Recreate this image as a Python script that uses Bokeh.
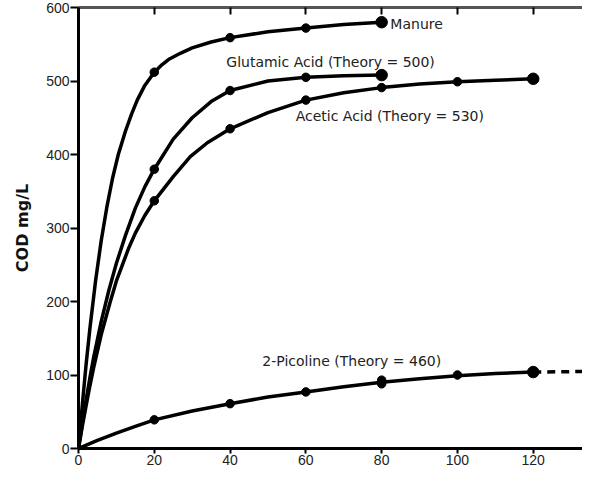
from bokeh.plotting import figure
from bokeh.models import Range1d, LinearAxis, FixedTicker, ColumnDataSource
from bokeh.core.properties import value
from bokeh.embed import file_html
from bokeh.resources import INLINE

# ---- data ----
# measured points
manure_t = [20, 40, 60, 80]
manure_v = [512, 559, 572, 580]
glut_t = [20, 40, 60, 80]
glut_v = [380, 487, 505, 508]
acetic_t = [20, 40, 60, 80, 100, 120]
acetic_v = [337, 435, 474, 491, 499, 503]
pic_t = [20, 40, 60, 80, 80, 100, 120]
pic_v = [39, 61, 77, 88, 93, 100, 104]

# fitted curves as drawn in the picture
manure_ct = [0, 1, 2, 3, 4.5, 6, 7.5, 9, 10.5, 12.4, 14, 15.5, 17.5, 20, 22, 24, 27, 30, 35, 40, 50, 60, 70, 80]
manure_cv = [0, 59, 114, 163, 228, 283, 329, 368, 400, 432, 455, 474, 494, 512, 522, 530, 538, 545, 553, 559, 567, 572, 577, 580]
glut_ct = [0, 1, 2, 3, 4, 6, 8, 10, 12.4, 15, 17.5, 20, 25, 30, 35, 40, 50, 60, 70, 80]
glut_cv = [0, 34, 66, 96, 124, 173, 215, 252, 290, 327, 356, 380, 421, 450, 472, 487, 500, 505, 507, 508]
acetic_ct = [0, 1, 2, 3, 4, 6, 8.4, 10, 13.2, 15, 17.5, 20, 25, 29.5, 34, 40, 50, 60, 70, 80, 90, 100, 110, 120]
acetic_cv = [0, 30, 58, 85, 110, 155, 200, 228, 272, 293, 317, 337, 370, 397, 416, 435, 457, 474, 484, 491, 496, 499, 501, 503]
pic_ct = [0, 5, 10, 15, 20, 30, 40, 50, 60, 70, 80, 90, 100, 110, 120]
pic_cv = [0, 11, 21, 30, 39, 51, 61, 70, 77, 84, 90, 95, 99, 102, 104]
pic_ext_t = [120, 137]
pic_ext_v = [104, 105]

labels = ["Manure", "Glutamic Acid (Theory = 500)", "Acetic Acid (Theory = 530)", "2-Picoline (Theory = 460)"]
label_x = [82.3, 39, 57.3, 48.5]
label_y = [577, 526, 453, 119]

x_ticks = [0, 20, 40, 60, 80, 100, 120]
y_ticks = [0, 100, 200, 300, 400, 500, 600]
top_ticks = [20, 40, 60, 80, 100, 120]

FONT = "Liberation Sans"
LFONT = "DejaVu Sans"

p = figure(width=582, height=467, output_backend="svg", toolbar_location=None,
           x_range=Range1d(0, 133), y_range=Range1d(0, 600),
           min_border_left=78, min_border_right=0, min_border_top=7, min_border_bottom=0)
p.grid.visible = False
p.outline_line_color = None
p.background_fill_color = "white"

for ct, cv in [(manure_ct, manure_cv), (glut_ct, glut_cv), (acetic_ct, acetic_cv), (pic_ct, pic_cv)]:
    p.line(ct, cv, line_color="black", line_width=3.5)
p.line(pic_ext_t, pic_ext_v, line_color="black", line_width=3.5, line_dash="8 6")

for t, v in [(manure_t, manure_v), (glut_t, glut_v), (acetic_t, acetic_v), (pic_t, pic_v)]:
    sizes = [8.5] * (len(t) - 1) + [11.5]
    src = ColumnDataSource(dict(x=t, y=v, s=sizes))
    p.scatter("x", "y", size="s", source=src, fill_color="black", line_color="black")

tsrc = ColumnDataSource(dict(x=label_x, y=label_y, t=labels))
p.text("x", "y", text="t", source=tsrc, text_font=value(LFONT), text_font_size="14px",
       text_color="#222222", text_baseline="middle", text_align="left")

# axes
xa = p.xaxis[0]
xa.ticker = FixedTicker(ticks=x_ticks)
xa.minor_tick_line_color = None
xa.major_tick_out = 5
xa.major_tick_in = 0
xa.major_label_standoff = 1
xa.axis_line_width = 3
xa.major_tick_line_width = 2
xa.major_label_text_font = FONT
xa.major_label_text_font_size = "14px"
xa.major_label_text_color = "#222222"

ya = p.yaxis[0]
ya.ticker = FixedTicker(ticks=y_ticks)
ya.minor_tick_line_color = None
ya.major_tick_out = 8
ya.major_tick_in = 0
ya.major_label_standoff = 1
ya.axis_line_width = 3
ya.major_tick_line_width = 2
ya.major_label_text_font = FONT
ya.major_label_text_font_size = "14px"
ya.major_label_text_color = "#222222"
ya.axis_label = "COD mg/L"
ya.axis_label_text_font = LFONT
ya.axis_label_text_font_size = "16px"
ya.axis_label_text_font_style = "bold"
ya.axis_label_text_color = "#111111"
ya.axis_label_standoff = 11

top = LinearAxis(ticker=FixedTicker(ticks=top_ticks))
top.major_label_overrides = {t: "" for t in top_ticks}
top.major_label_standoff = 0
top.major_tick_in = 7
top.major_tick_out = 0
top.major_tick_line_width = 2
top.minor_tick_line_color = None
top.axis_line_width = 3
top.axis_line_color = "#555555"
p.add_layout(top, "above")

open("out.html", "w").write(file_html(p, INLINE))
